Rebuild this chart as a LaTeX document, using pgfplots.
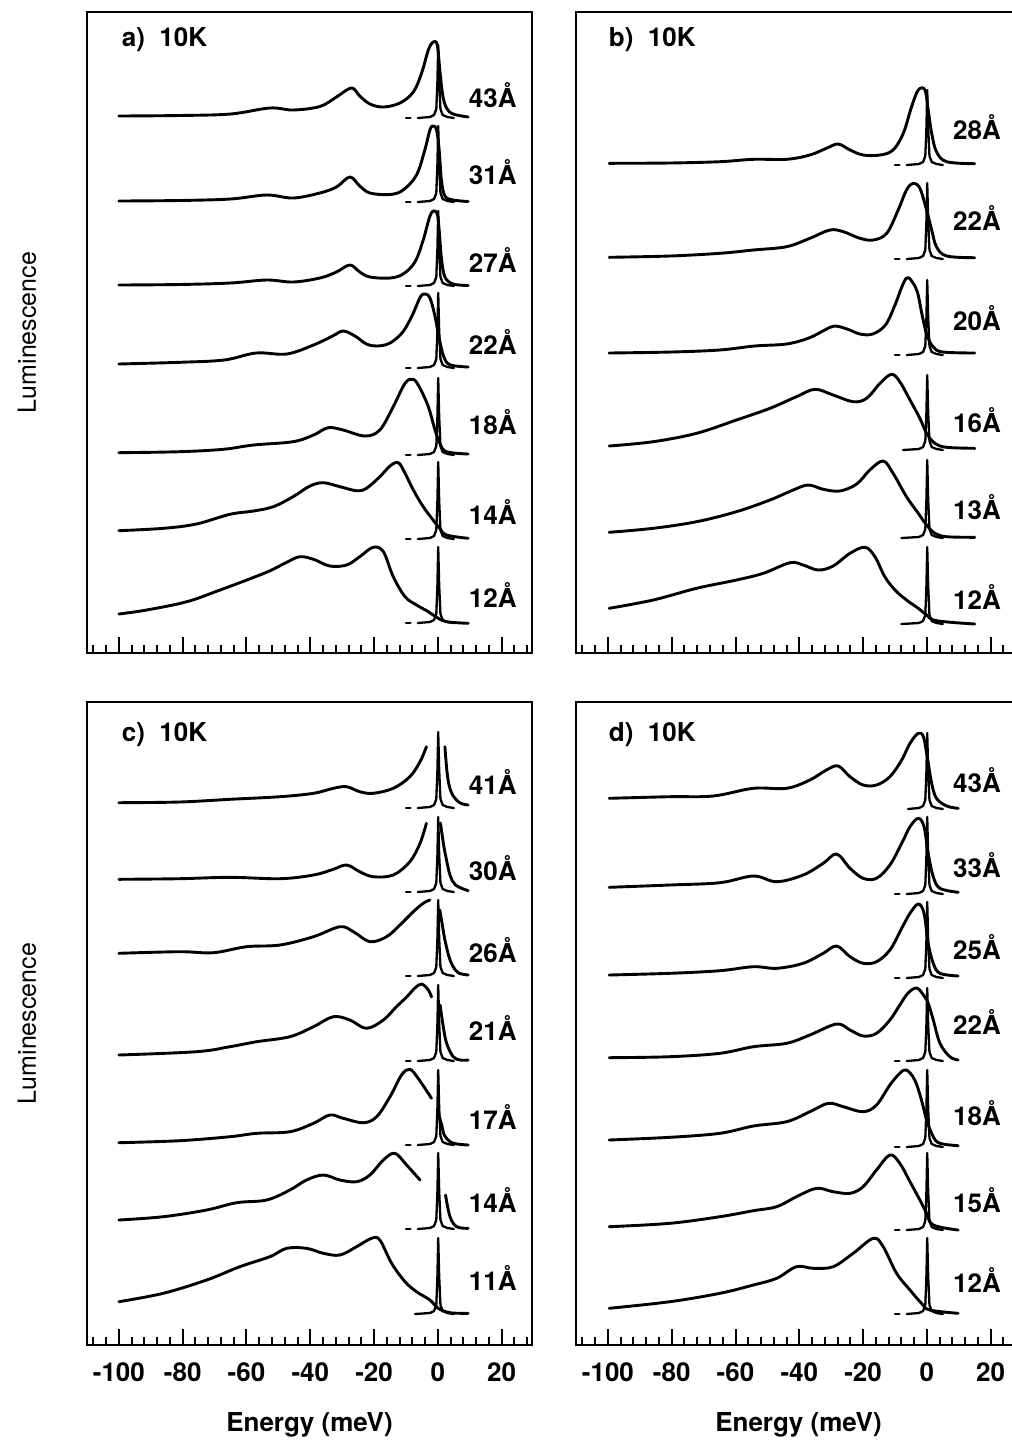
\documentclass[border=0pt]{standalone}
\usepackage{fontspec}
\setmainfont{TeX Gyre Heros}
\usepackage{pgfplots}
\pgfplotsset{compat=1.18}

% common look of the four luminescence panels (1 unit of y = 0.5pt)
\pgfplotsset{
  panel/.style={
    scale only axis,
    width=222.5pt,
    xmin=-110, xmax=29.5,
    ymin=0,
    clip=false,
    axis line style={line width=1.3pt},
    xtick={-100,-80,...,20},
    minor xtick={-108,-104,...,28},
    xtick pos=left,
    ytick=\empty,
    tick align=inside,
    major tick length=8pt,
    minor tick length=4pt,
    every tick/.style={black, line width=1pt},
    xticklabels={-100,-80,-60,-40,-20,0,20},
    xticklabel style={font=\fontsize{13}{15}\selectfont\bfseries, yshift=-5.5pt},
    every axis plot/.append style={black, line width=1.45pt, line join=round, line cap=round},
  },
  spec/.style={smooth, tension=0.58},
  line/.style={line width=1.15pt, sharp plot},
  top panel/.style={panel, height=320.5pt, ymax=641,
     xticklabel style={text opacity=0}},
  bottom panel/.style={panel, height=321.5pt, ymax=643},
}
\newcommand{\lab}{\fontsize{13}{15}\selectfont\bfseries}

\begin{document}
\begin{tikzpicture}

% ---------------- a) ----------------
\begin{axis}[top panel, at={(43.5pt,-6pt)}, anchor=north west]
\addplot[spec] coordinates {(-100,537) (-81,537.5) (-65,539) (-52.7,545) (-45.4,543) (-37,546.5) (-31.8,556) (-27.1,565) (-24.5,557) (-21.3,549) (-17.1,546) (-11.9,550) (-7.7,561) (-5.1,580) (-3,603) (-1.5,611) (-0.2,608) (0.6,583) (1.5,558) (2.7,545) (4.8,539) (9.5,536)};
\addplot[line] coordinates {(-10,535) (-8.6,535)};
\addplot[line] coordinates {(-6.3,535) (-2.5,536) (-1.2,538) (-0.5,544) (-0.15,571.5) (0.1,608) (0.4,571.5) (0.8,544) (1.5,538) (3,536) (5,535)};

\addplot[spec] coordinates {(-100,452) (-81,452.5) (-65,454) (-53.7,458) (-45.4,455) (-37,460) (-31.8,466) (-27.6,476) (-24.5,467) (-21.3,460) (-15,458.5) (-10.9,463) (-6.7,478) (-4.1,503) (-2.5,523) (-1.5,527) (-0.4,523) (0.4,503) (1.1,473) (2.2,457) (4.8,453) (9.5,451.5)};
\addplot[line] coordinates {(-10,451) (-8.6,451)};
\addplot[line] coordinates {(-6.3,451) (-2.5,452) (-1.2,454) (-0.5,460) (-0.15,489) (0.1,527) (0.4,489) (0.8,460) (1.5,454) (3,452) (5,451)};

\addplot[spec] coordinates {(-100,368) (-81,368.5) (-65,370) (-53.7,373) (-45.4,371) (-37,375) (-31.8,381) (-27.6,388) (-24.5,381) (-21.3,376) (-15,375) (-10.9,379) (-7.2,391) (-4.6,413) (-2.7,435) (-1.5,442) (-0.2,439) (0.4,423) (1.1,395) (2.2,376) (4.8,369) (9.5,367.5)};
\addplot[line] coordinates {(-10,367) (-8.6,367)};
\addplot[line] coordinates {(-6.3,367) (-2.5,368) (-1.2,370) (-0.5,376) (-0.15,404.5) (0.1,442) (0.4,404.5) (0.8,376) (1.5,370) (3,368) (5,367)};

\addplot[spec] coordinates {(-100,289) (-81,290.7) (-67,293) (-57,300) (-47.4,299) (-39,308) (-33,317) (-29.7,322) (-26,317) (-22.4,309) (-19,307) (-15,310) (-11,321) (-8,338) (-5.5,356) (-4,359) (-2.5,355) (-1,338) (0.5,313) (2,295) (4,288) (9.5,286)};
\addplot[line] coordinates {(-10,285) (-8.6,285)};
\addplot[line] coordinates {(-6.3,285) (-2.5,286) (-1.2,288) (-0.5,294) (-0.15,322.5) (0.1,360) (0.4,322.5) (0.8,294) (1.5,288) (3,286) (5,285)};

\addplot[spec] coordinates {(-100,200.3) (-81,201.3) (-67.3,203.7) (-57.8,208) (-45.4,211.3) (-39,218) (-34.4,225.3) (-29.7,223) (-22.9,217) (-18.2,223) (-14,246.3) (-10.3,269.7) (-7.7,273.7) (-5.6,264.7) (-3,246.3) (-0.9,223) (0.6,209.7) (2.7,201.3) (9.5,199)};
\addplot[line] coordinates {(-10,198) (-8.6,198)};
\addplot[line] coordinates {(-6.3,198) (-2.5,199) (-1.2,201) (-0.5,207) (-0.15,236.5) (0.1,275) (0.4,236.5) (0.8,207) (1.5,201) (3,199) (5,198)};

\addplot[spec] coordinates {(-100,122.3) (-86,124.7) (-75.7,129) (-65.2,138.7) (-57.8,142) (-51.6,146.3) (-45.4,156.3) (-40.1,167) (-35.9,170.3) (-30.7,166.3) (-25.5,162.3) (-22.4,164.7) (-18.2,176.3) (-15,187) (-12.4,190.3) (-10.3,179.7) (-7.7,163) (-4.6,146.3) (-1.5,133) (0.6,124.7) (2.7,118) (9.5,114.7)};
\addplot[line] coordinates {(-10,114) (-8.6,114)};
\addplot[line] coordinates {(-6.3,114) (-2.5,115) (-1.2,117) (-0.5,123) (-0.15,152.5) (0.1,191) (0.4,152.5) (0.8,123) (1.5,117) (3,115) (5,114)};

\addplot[spec] coordinates {(-100,39) (-91.3,43) (-78.7,51.3) (-68.3,63) (-59.9,73) (-52.6,82.3) (-47.4,90.7) (-43.3,96.3) (-39,93.7) (-33.9,87) (-28.6,88) (-24.5,96.3) (-20.3,105.7) (-17.1,101.3) (-14,76.3) (-10.3,56.3) (-6.7,48) (-3,41.3) (-0.4,35.7) (2.7,31.3) (9.5,29.7)};
\addplot[line] coordinates {(-10,30) (-8.6,30)};
\addplot[line] coordinates {(-6.3,30) (-2.5,31) (-1.2,33) (-0.5,39) (-0.15,68) (0.1,106) (0.4,68) (0.8,39) (1.5,33) (3,31) (5,30)};

\node[anchor=west, font=\lab] at (axis cs:-101.3,613) {a)\ \ 10K};
\node[font=\lab] at (axis cs:17.2,558) {43Å};
\node[font=\lab] at (axis cs:17.2,481) {31Å};
\node[font=\lab] at (axis cs:17.2,393) {27Å};
\node[font=\lab] at (axis cs:17.2,311) {22Å};
\node[font=\lab] at (axis cs:17.2,231) {18Å};
\node[font=\lab] at (axis cs:17.2,141) {14Å};
\node[font=\lab] at (axis cs:17.2,58) {12Å};
\node[rotate=90, font=\fontsize{12.5}{15}\selectfont] at ([xshift=-30pt]rel axis cs:0,0.5) {Luminescence};
\end{axis}

% ---------------- b) ----------------
\begin{axis}[top panel, at={(288pt,-6pt)}, anchor=north west]
\addplot[spec] coordinates {(-99.6,489.7) (-80.6,490) (-64.9,491.3) (-54.4,493.7) (-44,493.7) (-36.7,498) (-31.5,504.7) (-27.8,509) (-24.1,503) (-20,498) (-14.7,498) (-10.6,503) (-7.4,519.7) (-4.8,546.3) (-2.7,563) (-0.6,563) (0.4,543) (1.5,519.7) (3,501.3) (6.2,491.3) (15,489.3)};
\addplot[line] coordinates {(-10,488) (-8.6,488)};
\addplot[line] coordinates {(-6.3,488) (-2.5,489) (-1.2,491) (-0.5,497) (-0.15,525.5) (0.1,563) (0.4,525.5) (0.8,497) (1.5,491) (3,489) (5,488)};

\addplot[spec] coordinates {(-99.6,395.7) (-80.6,397) (-64.9,399.7) (-54.4,403) (-44,406.3) (-36.7,414.7) (-30.4,423) (-26.2,421.3) (-21,414.7) (-16.8,413) (-12.6,419.7) (-9,443) (-6.4,463) (-4.3,469.7) (-2.2,464.7) (-0.1,443) (1.5,423) (3,406.3) (6.2,397) (15,395.3)};
\addplot[line] coordinates {(-10,394) (-8.6,394)};
\addplot[line] coordinates {(-6.3,394) (-2.5,395) (-1.2,397) (-0.5,403) (-0.15,432) (0.1,470) (0.4,432) (0.8,403) (1.5,397) (3,395) (5,394)};

\addplot[spec] coordinates {(-99.6,300) (-80,301) (-65,303) (-54,307) (-44,309) (-37,315) (-32,323) (-29,327) (-25,324) (-21,319) (-17,319) (-13,328) (-10,348) (-8,365) (-6.4,375) (-5,373) (-3,361) (-1.5,338) (0,318) (2,306) (5,301) (15,300)};
\addplot[line] coordinates {(-10,298) (-8.6,298)};
\addplot[line] coordinates {(-6.3,298) (-2.5,299) (-1.2,301) (-0.5,307) (-0.15,335.5) (0.1,373) (0.4,335.5) (0.8,307) (1.5,301) (3,299) (5,298)};

\addplot[spec] coordinates {(-99.6,207) (-85.8,211.3) (-72.2,219.7) (-59.7,233) (-49.2,244.7) (-40.9,256.3) (-35.1,263.7) (-29.4,258) (-23.1,251.3) (-18.9,254.7) (-14.7,269.7) (-11.1,278.7) (-8.5,271.3) (-5.3,253) (-2.2,234.7) (-0.1,219.7) (2.5,209.7) (6.2,205.7) (15,204.7)};
\addplot[line] coordinates {(-7.5,203) (-2.5,204) (-1.2,206) (-0.5,212) (-0.15,240.5) (0.1,278) (0.4,240.5) (0.8,212) (1.5,206) (3,204) (5,203)};

\addplot[spec] coordinates {(-99.6,120.7) (-85.8,124.7) (-72.2,131.3) (-59.7,141.3) (-49.2,153) (-41.9,163) (-37.2,168) (-32.5,163.7) (-27.3,162) (-22,169) (-17.9,183) (-13.7,192) (-10.6,179.7) (-6.4,156.3) (-2.7,139.7) (-0.1,128) (2.5,119.7) (6.2,116.3) (15,115.7)};
\addplot[line] coordinates {(-8,115) (-2.5,116) (-1.2,118) (-0.5,124) (-0.15,154) (0.1,193) (0.4,154) (0.8,124) (1.5,118) (3,116) (5,115)};

\addplot[spec] coordinates {(-99.6,44.7) (-85.8,53) (-72.2,64.7) (-59.7,73) (-51.3,79.7) (-42.9,90.3) (-38.8,88) (-34.1,83) (-29.4,87) (-24.1,99.7) (-19.4,105.7) (-16.3,96.3) (-13.2,76.3) (-10,63) (-6.4,53) (-2.7,44.7) (-0.1,38) (3,32.3) (15,29)};
\addplot[line] coordinates {(-8,29) (-2.5,30) (-1.2,32) (-0.5,38) (-0.15,67.5) (0.1,106) (0.4,67.5) (0.8,38) (1.5,32) (3,30) (5,29)};

\node[anchor=west, font=\lab] at (axis cs:-101.9,613) {b)\ \ 10K};
\node[font=\lab] at (axis cs:15.7,526) {28Å};
\node[font=\lab] at (axis cs:15.7,435) {22Å};
\node[font=\lab] at (axis cs:15.7,335) {20Å};
\node[font=\lab] at (axis cs:15.7,233) {16Å};
\node[font=\lab] at (axis cs:15.7,146) {13Å};
\node[font=\lab] at (axis cs:15.7,56) {12Å};
\end{axis}

% ---------------- c) ----------------
\begin{axis}[bottom panel, at={(43.5pt,-351pt)}, anchor=north west]
\addplot[spec] coordinates {(-100,542.3) (-81,543) (-65.2,545.7) (-49.5,548.3) (-39,551.7) (-32.8,556.7) (-28.6,558.3) (-24.5,553.3) (-20.3,551.7) (-14,556.7) (-8.8,568.3) (-5.6,583.3) (-3.6,598.3)};
\addplot[spec] coordinates {(2.2,598.3) (2.8,575) (3.5,560) (4.8,549) (7,542) (9.5,540)};
\addplot[line] coordinates {(-10,537) (-8.6,537)};
\addplot[line] coordinates {(-6.3,537) (-2.5,538) (-1.2,540) (-0.5,546) (-0.15,575) (0.1,613) (0.4,575) (0.8,546) (1.5,540) (3,538) (5,537)};

\addplot[spec] coordinates {(-100,465.7) (-81,466.3) (-65.2,467.7) (-49.5,466.3) (-39,470) (-32.8,475.7) (-28.6,480) (-24.5,473.3) (-20.3,468.3) (-14,470) (-8.8,483.3) (-5.6,501.7) (-3.6,521.7)};
\addplot[spec] coordinates {(0.8,522) (1.8,500) (2.7,485) (3.8,470) (5.5,460) (9.5,454.3)};
\addplot[line] coordinates {(-10,453) (-8.6,453)};
\addplot[line] coordinates {(-6.3,453) (-2.5,454) (-1.2,456) (-0.5,462) (-0.15,490.5) (0.1,528) (0.4,490.5) (0.8,462) (1.5,456) (3,454) (5,453)};

\addplot[spec] coordinates {(-100,391.7) (-81,393.3) (-70.4,392.3) (-60,398.3) (-49.5,400) (-39,408.3) (-30.7,418.3) (-26.5,413.3) (-21.3,403.3) (-16.1,408.3) (-11.9,420) (-7.7,433.3) (-4.6,441.7) (-2.5,445)};
\addplot[spec] coordinates {(0.6,435) (1.5,418) (2.2,405) (3.5,388) (4.8,378.3) (6.5,372) (9.5,370)};
\addplot[line] coordinates {(-10,369) (-8.6,369)};
\addplot[line] coordinates {(-6.3,369) (-2.5,370) (-1.2,372) (-0.5,378) (-0.15,407) (0.1,445) (0.4,407) (0.8,378) (1.5,372) (3,370) (5,369)};

\addplot[spec] coordinates {(-100,290) (-75.7,293.3) (-65.2,298.3) (-56.8,303.3) (-46.4,308.3) (-39,318.3) (-32.8,328.3) (-27.6,325) (-22.4,316.7) (-17.1,325) (-13,338.3) (-9.8,348) (-7.2,357) (-5.1,361) (-3,355) (-2,348)};
\addplot[spec] coordinates {(0.7,340) (1.6,320) (2.7,302) (4.8,288.3) (7,285) (9.5,285)};
\addplot[line] coordinates {(-10,284) (-8.6,284)};
\addplot[line] coordinates {(-6.3,284) (-2.5,285) (-1.2,287) (-0.5,293) (-0.15,322) (0.1,360) (0.4,322) (0.8,293) (1.5,287) (3,285) (5,284)};

\addplot[spec] coordinates {(-100,202.3) (-81,204.3) (-65.2,208.3) (-56.8,211.7) (-46.4,213.3) (-39,221.7) (-33.9,230) (-29.7,226.7) (-23.4,222.3) (-19.2,228.3) (-15,248.3) (-11.4,270) (-8.8,275.7) (-6.2,266.7) (-2,246.7)};
\addplot[spec] coordinates {(0.3,230) (1.2,220) (2,210) (3.8,203.3) (6,201) (9.5,200)};
\addplot[line] coordinates {(-10,200) (-8.6,200)};
\addplot[line] coordinates {(-6.3,200) (-2.5,201) (-1.2,203) (-0.5,209) (-0.15,237.5) (0.1,275) (0.4,237.5) (0.8,209) (1.5,203) (3,201) (5,200)};

\addplot[spec] coordinates {(-100,125) (-86.1,128.3) (-72.5,135) (-63.1,142.3) (-53.7,145) (-46.4,155) (-41.2,165) (-35.9,170) (-30.7,165) (-25.5,163.3) (-21.3,170) (-17.1,185) (-13.5,191.7) (-9.8,180) (-5.6,165)};
\addplot[spec] coordinates {(2.4,150) (3.8,128.3) (5.9,118.3) (9.5,116.7)};
\addplot[line] coordinates {(-10,116) (-8.6,116)};
\addplot[line] coordinates {(-6.3,116) (-2.5,117) (-1.2,119) (-0.5,125) (-0.15,154) (0.1,192) (0.4,154) (0.8,125) (1.5,119) (3,117) (5,116)};

\addplot[spec] coordinates {(-100,43.3) (-86.1,51.7) (-72.5,65) (-62.1,78.3) (-52.7,88.3) (-47.4,96.7) (-41.2,96.7) (-35.9,91.7) (-30.7,90) (-25.5,98.3) (-20.8,106.7) (-18.2,105) (-14.5,81.7) (-10.3,63.3) (-6.7,53.3) (-2.5,45) (0.1,36.7) (3.8,32.3) (9.5,31.7)};
\addplot[line] coordinates {(-7.2,31) (-2.5,32) (-1.2,34) (-0.5,40) (-0.15,69) (0.1,107) (0.4,69) (0.8,40) (1.5,34) (3,32) (5,31)};

\node[anchor=west, font=\lab] at (axis cs:-101.3,610) {c)\ \ 10K};
\node[font=\lab] at (axis cs:17.2,563.3) {41Å};
\node[font=\lab] at (axis cs:17.2,476.7) {30Å};
\node[font=\lab] at (axis cs:17.2,395) {26Å};
\node[font=\lab] at (axis cs:17.2,316.7) {21Å};
\node[font=\lab] at (axis cs:17.2,228.3) {17Å};
\node[font=\lab] at (axis cs:17.2,145) {14Å};
\node[font=\lab] at (axis cs:17.2,66.7) {11Å};
\node[rotate=90, font=\fontsize{12.5}{15}\selectfont] at ([xshift=-30pt]rel axis cs:0,0.5) {Luminescence};
\node[font=\lab] at ([yshift=-40pt]rel axis cs:0.5,0) {Energy (meV)};
\end{axis}

% ---------------- d) ----------------
\begin{axis}[bottom panel, at={(288pt,-351pt)}, anchor=north west]
\addplot[spec] coordinates {(-99.6,546.7) (-80.6,548.3) (-67,549) (-54.4,556.7) (-44,556.7) (-36.7,565) (-31.5,575) (-27.8,579) (-24.1,568.3) (-20,560) (-15.8,560) (-11.6,568.3) (-7.9,585) (-5.3,601.7) (-2.7,611.7) (-1.1,608.3) (0.1,588.3) (1.5,561.7) (3,546.7) (6.2,539) (9.8,536.7)};
\addplot[line] coordinates {(-5.9,536) (-2.5,537) (-1.2,539) (-0.5,545) (-0.15,574) (0.1,612) (0.4,574) (0.8,545) (1.5,539) (3,537) (5,536)};

\addplot[spec] coordinates {(-99.6,457.7) (-80.6,460) (-64.9,462.3) (-54.4,469) (-47.1,463.3) (-38.8,470) (-32.5,481.7) (-28.3,491) (-24.1,476.7) (-20,466.7) (-15.8,466.7) (-11.6,480) (-7.9,501.7) (-5.3,518.3) (-2.7,526.7) (-0.9,518.3) (0.4,491.7) (2,468.3) (4.1,456.7) (9.8,452.7)};
\addplot[line] coordinates {(-10,451) (-8.6,451)};
\addplot[line] coordinates {(-6.3,451) (-2.5,452) (-1.2,454) (-0.5,460) (-0.15,489.5) (0.1,528) (0.4,489.5) (0.8,460) (1.5,454) (3,452) (5,451)};

\addplot[spec] coordinates {(-99.6,370) (-80.6,371.7) (-64.9,374.3) (-54.4,378.3) (-47.1,376.7) (-38.8,381.7) (-32.5,391.7) (-28.3,399) (-24.1,388.3) (-20,381.7) (-15.8,383.3) (-11.6,395) (-7.9,416.7) (-5.3,431.7) (-2.7,441) (-0.9,431.7) (0.4,401.7) (2,381.7) (4.1,371.7) (9.8,369)};
\addplot[line] coordinates {(-10,367) (-8.6,367)};
\addplot[line] coordinates {(-6.3,367) (-2.5,368) (-1.2,370) (-0.5,376) (-0.15,405) (0.1,443) (0.4,405) (0.8,376) (1.5,370) (3,368) (5,367)};

\addplot[spec] coordinates {(-99.6,287.3) (-80.6,288.3) (-64.9,291.7) (-54.4,298.3) (-44,301.7) (-36.7,310) (-28.3,321) (-24.1,315) (-20,309) (-15.8,311.7) (-11.6,325) (-8.5,340) (-5.9,352) (-3.2,357) (-1.1,350) (0.4,341.7) (2,325) (4.1,301.7) (7.2,288.3) (9.8,285)};
\addplot[line] coordinates {(-10,284) (-8.6,284)};
\addplot[line] coordinates {(-6.3,284) (-2.5,285) (-1.2,287) (-0.5,293) (-0.15,320.5) (0.1,357) (0.4,320.5) (0.8,293) (1.5,287) (3,285) (5,284)};

\addplot[spec] coordinates {(-99.6,205) (-80.6,207.7) (-64.9,211.7) (-54.4,219) (-44,223.3) (-36.7,233.3) (-30.9,241.7) (-26.2,238.3) (-20,233.3) (-15.8,240) (-11.6,260) (-8.5,271.7) (-6.4,275) (-3.8,265) (-1.7,245) (-0.1,225) (2,208.3) (4.1,201.7) (9.8,199.3)};
\addplot[line] coordinates {(-10,198) (-8.6,198)};
\addplot[line] coordinates {(-6.3,198) (-2.5,199) (-1.2,201) (-0.5,207) (-0.15,236.5) (0.1,275) (0.4,236.5) (0.8,207) (1.5,201) (3,199) (5,198)};

\addplot[spec] coordinates {(-99.6,118.3) (-80.6,121.7) (-64.9,128.3) (-54.4,134.3) (-47.1,138.3) (-40.9,148.3) (-34.6,156.7) (-29.4,153.3) (-24.1,151.7) (-20,158.3) (-15.8,175) (-11.6,190) (-8.5,181.7) (-5.3,163.3) (-2.2,145) (-0.1,131.7) (2,120) (9.8,115)};
\addplot[line] coordinates {(-10,115) (-8.6,115)};
\addplot[line] coordinates {(-6.3,115) (-2.5,116) (-1.2,118) (-0.5,124) (-0.15,153.5) (0.1,192) (0.4,153.5) (0.8,124) (1.5,118) (3,116) (5,115)};

\addplot[spec] coordinates {(-99.6,36.7) (-80.6,43.3) (-64.9,51.7) (-54.4,60) (-47.1,66.7) (-40.9,78.3) (-35.6,76.7) (-29.4,78.3) (-23.1,91.7) (-16.8,106.7) (-13.7,98.3) (-9.5,71.7) (-5.3,55) (-1.7,41.7) (0.9,35) (9.8,31.7)};
\addplot[line] coordinates {(-10,31) (-8.6,31)};
\addplot[line] coordinates {(-6.3,31) (-2.5,32) (-1.2,34) (-0.5,40) (-0.15,69) (0.1,107) (0.4,69) (0.8,40) (1.5,34) (3,32) (5,31)};

\node[anchor=west, font=\lab] at (axis cs:-101.9,610) {d)\ \ 10K};
\node[font=\lab] at (axis cs:15.7,565) {43Å};
\node[font=\lab] at (axis cs:15.7,480) {33Å};
\node[font=\lab] at (axis cs:15.7,398.3) {25Å};
\node[font=\lab] at (axis cs:15.7,323.3) {22Å};
\node[font=\lab] at (axis cs:15.7,231.7) {18Å};
\node[font=\lab] at (axis cs:15.7,145) {15Å};
\node[font=\lab] at (axis cs:15.7,65) {12Å};
\node[font=\lab] at ([yshift=-40pt]rel axis cs:0.5,0) {Energy (meV)};
\end{axis}

\pgfresetboundingbox
\path[use as bounding box] (0,0) rectangle (506pt,-723.5pt);
\end{tikzpicture}
\end{document}
